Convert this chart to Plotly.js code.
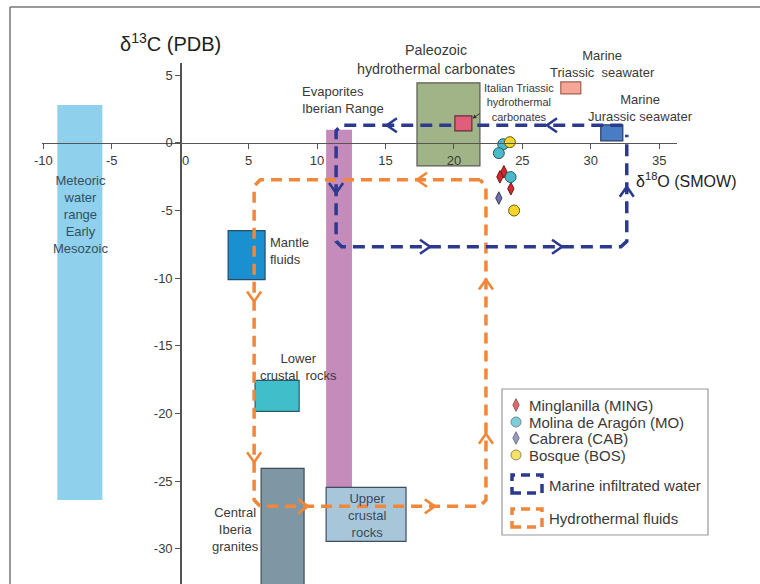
<!DOCTYPE html>
<html><head><meta charset="utf-8">
<script src="https://cdn.plot.ly/plotly-3.0.1.min.js"></script>
<style>html,body{margin:0;padding:0;background:#fff}#chart{width:760px;height:584px}</style>
</head><body><div id="chart"></div>
<script>
// ---------- data (delta18O SMOW on x, delta13C PDB on y) ----------
const fieldNames = ['Meteoric water range Early Mesozoic','Mantle fluids','Lower crustal rocks','Central Iberia granites','Evaporites Iberian Range','Upper crustal rocks','Paleozoic hydrothermal carbonates','Italian Triassic hydrothermal carbonates','Marine Triassic seawater','Marine Jurassic seawater'];
const fieldO18Min = [-8.98, 3.50, 5.47, 5.91, 10.66, 10.66, 17.30, 20.07, 27.81, 30.73];
const fieldO18Max = [-5.69, 6.20, 8.69, 9.05, 12.55, 16.50, 21.90, 21.31, 29.27, 32.34];
const fieldC13Min = [-26.4, -10.11, -19.85, -34.0, -25.46, -29.45, -1.70, 0.89, 3.62, 0.15];
const fieldC13Max = [2.80, -6.49, -17.56, -24.06, 0.96, -25.46, 4.43, 1.99, 4.50, 1.33];

const sampleNames = ['Minglanilla (MING)', 'Molina de Aragón (MO)', 'Cabrera (CAB)', 'Bosque (BOS)'];
const mingO18 = [23.65, 23.36, 24.16];
const mingC13 = [-2.14, -2.51, -3.39];
const moO18 = [23.60, 23.28, 24.14];
const moC13 = [-0.10, -0.76, -2.53];
const cabO18 = [23.28];
const cabC13 = [-4.08];
const bosO18 = [24.09, 24.40];
const bosC13 = [0.05, -5.00];

// flow paths (marine infiltrated water, hydrothermal fluids)
const marineO18 = [32.3, 11.8, 11.39, 11.39, 11.8, 32.2, 32.63, 32.63];
const marineC13 = [1.3, 1.3, 0.9, -7.28, -7.68, -7.68, -7.28, 0.6];
const marineArrowO18 = [15.1, 26.8, 11.39, 18.25, 27.9, 32.63];
const marineArrowC13 = [1.3, 1.3, -3.7, -7.68, -7.68, -3.25];
const marineArrowDir = ['L', 'L', 'D', 'R', 'R', 'U'];

const hydroO18 = [21.9, 5.85, 5.4, 5.4, 5.85, 21.9, 22.34, 22.34, 21.9];
const hydroC13 = [-2.73, -2.73, -3.2, -26.4, -26.86, -26.86, -26.4, -3.2, -2.73];
const hydroArrowO18 = [17.3, 5.4, 5.4, 9.34, 18.6, 22.34, 22.34];
const hydroArrowC13 = [-2.73, -11.73, -23.6, -26.86, -26.86, -21.5, -10.1];
const hydroArrowDir = ['L', 'D', 'D', 'R', 'R', 'U', 'U'];

const xRange = [-10.1, 36.3];
const yRange = [-32.6, 5.9];
const xTickVals = [-10, -5, 0, 5, 10, 15, 20, 25, 30, 35];
const xTickText = ['-10', '-5', '\u00a0\u00a0\u00a00', '5', '10', '15', '20', '25', '30', '35'];
const yTickVals = [5, 0, -5, -10, -15, -20, -25, -30];
const yTickText = ['5', '0', '-5', '-10', '-15', '-20', '-25', '-30'];

// ---------- layout helpers ----------
const W = 760, H = 584, ML = 42, MR = 83, MT = 63, MB = 0;
const PW = W - ML - MR, PH = H - MT - MB;
const fx = px => (px - ML) / PW;
const fy = py => (H - MB - py) / PH;
const kx = PW / (xRange[1] - xRange[0]);   // px per permil (x)
const ky = PH / (yRange[1] - yRange[0]);   // px per permil (y)
const FONT = 'Liberation Sans, Arial, sans-serif';
const TXT = '#3a3a3a';
const ORANGE = '#f0873a', NAVY = '#2b3a8f';

// chevron arrowheads built around each apex (size in pixels, converted through axis scale)
const ARROW_DEPTH = 10, ARROW_HALF = 7;
function chevrons(xs, ys, dirs) {
  const X = [], Y = [];
  xs.forEach((x0, i) => {
    const y0 = ys[i], d = dirs[i];
    const dx = ARROW_DEPTH / kx, dy = ARROW_DEPTH / ky, hx = ARROW_HALF / kx, hy = ARROW_HALF / ky;
    let a, b;
    if (d === 'L') { a = [x0 + dx, y0 + hy]; b = [x0 + dx, y0 - hy]; }
    if (d === 'R') { a = [x0 - dx, y0 + hy]; b = [x0 - dx, y0 - hy]; }
    if (d === 'U') { a = [x0 - hx, y0 - dy]; b = [x0 + hx, y0 - dy]; }
    if (d === 'D') { a = [x0 - hx, y0 + dy]; b = [x0 + hx, y0 + dy]; }
    X.push(a[0], x0, b[0], null); Y.push(a[1], y0, b[1], null);
  });
  return {X, Y};
}
const hydroChev = chevrons(hydroArrowO18, hydroArrowC13, hydroArrowDir);
const marineChev = chevrons(marineArrowO18, marineArrowC13, marineArrowDir);

const fieldFill = ['#8fd0ec','#1a90d0','#40bfcb','#7f96a4','#c48bbb','#a8c6da','#a0b488','#e05e7c','#f5a696','#4a7cc4'];
const fieldLine = [null,'#2a4a66','#2c5a64','#3e4c58',null,'#3e4e5e','#5a5a50','#6a2a3a','#a06050','#2a3a66'];
const fieldLayer = ['below','below','below','below','below','below','below','above','above','below'];

const shapes = fieldNames.map((n, i) => ({
  type: 'rect', xref: 'x', yref: 'y',
  x0: fieldO18Min[i], x1: fieldO18Max[i], y0: fieldC13Min[i], y1: fieldC13Max[i],
  fillcolor: fieldFill[i], layer: fieldLayer[i],
  line: fieldLine[i] ? {color: fieldLine[i], width: 1.2} : {width: 0}
}));
// outer frame
shapes.push({type:'line', xref:'paper', yref:'paper', x0: fx(10), x1: fx(760), y0: fy(7), y1: fy(7), line:{color:'#777', width:1.5}});
shapes.push({type:'line', xref:'paper', yref:'paper', x0: fx(10), x1: fx(10), y0: fy(7), y1: fy(584), line:{color:'#777', width:1.5}});
// legend box and dashed icons
shapes.push({type:'rect', xref:'paper', yref:'paper', x0: fx(502), x1: fx(708), y0: fy(535), y1: fy(389), line:{color:'#999', width:1.2}, fillcolor:'rgba(0,0,0,0)'});
shapes.push({type:'rect', xref:'paper', yref:'paper', x0: fx(512), x1: fx(542), y0: fy(493), y1: fy(475), line:{color:NAVY, width:3.5, dash:'9px,6px'}});
shapes.push({type:'rect', xref:'paper', yref:'paper', x0: fx(512), x1: fx(542), y0: fy(527), y1: fy(509), line:{color:ORANGE, width:3.5, dash:'9px,6px'}});

const ann = (text, x, y, opts) => Object.assign({text, x, y, xref:'x', yref:'y', showarrow:false,
  xanchor:'center', yanchor:'middle',
  font:{family:FONT, size:13, color:TXT}}, opts || {});

// legend rows (pixel layout of the key)
const legendKeyX = 516, legendTextX = 527;
const legendRowY = [405, 422, 438, 455];

const annotations = [
  ann('δ<sup>13</sup>C (PDB)', fx(170), fy(42), {xref:'paper', yref:'paper', font:{family:FONT, size:20, color:'#222'}}),
  ann('δ<sup>18</sup>O (SMOW)', fx(634), fy(180), {xref:'paper', yref:'paper', xanchor:'left', font:{family:FONT, size:16, color:'#222'}}),
  ann('Meteoric<br>water<br>range<br>Early<br>Mesozoic', -7.3, -5.31, {font:{family:FONT, size:13, color:'#33505e'}}),
  ann('Mantle<br>fluids', 6.42, -7.97, {xanchor:'left', align:'left'}),
  ann('Lower<br>crustal  rocks', 8.61, -16.53),
  ann('Central<br>Iberia<br>granites', 4.01, -28.56),
  ann('Evaporites<br>Iberian Range', 8.76, 3.17, {xanchor:'left', align:'left'}),
  ann('Upper<br>crustal<br>rocks', 13.65, -27.53, {font:{family:FONT, size:13, color:'#3a4a5a'}}),
  ann('Paleozoic<br>hydrothermal carbonates', fx(436), fy(59), {xref:'paper', yref:'paper', font:{family:FONT, size:14.3, color:TXT}}),
  ann('Italian Triassic<br>hydrothermal<br>carbonates', 24.74, 2.95, {font:{family:FONT, size:11, color:TXT}}),
  ann('Marine<br>Triassic  seawater', fx(602), fy(64.5), {xref:'paper', yref:'paper'}),
  ann('Marine<br>Jurassic seawater', 33.65, 2.55),
  {x: 21.35, y: 1.8, xref:'x', yref:'y', text:'', showarrow:true, ax:9, ay:-6, arrowhead:2, arrowsize:0.8, arrowwidth:1, arrowcolor:'#333'},
  ann('Marine infiltrated water', fx(547), fy(485), {xref:'paper', yref:'paper', xanchor:'left', font:{family:FONT, size:15, color:TXT}}),
  ann('Hydrothermal fluids', fx(547), fy(518), {xref:'paper', yref:'paper', xanchor:'left', font:{family:FONT, size:15, color:TXT}})
];
sampleNames.forEach((n, i) => annotations.push(
  ann(n, fx(legendTextX), fy(legendRowY[i]), {xref:'paper', yref:'paper', xanchor:'left', font:{family:FONT, size:15, color:TXT}})));

const sampleStyle = [
  {symbol:'diamond-tall', size:9, color:'#d8262a', line:{color:'#6a1a1a', width:1}},
  {symbol:'circle', size:11, color:'#48b9c9', line:{color:'#2a5a66', width:1}},
  {symbol:'diamond-tall', size:9, color:'#6e70a8', line:{color:'#3a3a60', width:1}},
  {symbol:'circle', size:11, color:'#f3d628', line:{color:'#6a5a10', width:1}}
];

const traces = [
  {x: hydroO18, y: hydroC13, mode:'lines', line:{color:ORANGE, width:3.5, dash:'11px,7px'}, hoverinfo:'skip'},
  {x: marineO18, y: marineC13, mode:'lines', line:{color:NAVY, width:3.5, dash:'12px,7px'}, hoverinfo:'skip'},
  {x: hydroChev.X, y: hydroChev.Y, mode:'lines', line:{color:ORANGE, width:2.6}, hoverinfo:'skip'},
  {x: marineChev.X, y: marineChev.Y, mode:'lines', line:{color:NAVY, width:2.6}, hoverinfo:'skip'},
  {name: sampleNames[0], x: mingO18, y: mingC13, mode:'markers', marker: sampleStyle[0]},
  {name: sampleNames[1], x: moO18, y: moC13, mode:'markers', marker: sampleStyle[1]},
  {name: sampleNames[2], x: cabO18, y: cabC13, mode:'markers', marker: sampleStyle[2]},
  {name: sampleNames[3], x: bosO18, y: bosC13, mode:'markers', marker: sampleStyle[3]},
  // legend key symbols on a hidden pixel-scaled overlay axis
  {x: legendRowY.map(() => legendKeyX), y: legendRowY, xaxis:'x2', yaxis:'y2', mode:'markers', hoverinfo:'skip',
   marker:{symbol: sampleStyle.map(s => s.symbol), size:[9, 10, 9, 10],
     color: sampleStyle.map(s => s.color), line:{color: sampleStyle.map(s => s.line.color), width:1}}}
];

const axisCommon = {showgrid:false, zeroline:false, showline:true, linecolor:'#555', linewidth:1.3,
  ticks:'outside', ticklen:5, tickwidth:1, tickcolor:'#555', tickmode:'array',
  tickfont:{family:FONT, size:13, color:TXT}, fixedrange:true};

const layout = {
  width: W, height: H,
  margin: {l: ML, r: MR, t: MT, b: MB, pad: 0},
  paper_bgcolor:'#fff', plot_bgcolor:'#fff',
  font:{family:FONT, color:TXT},
  showlegend: false,
  xaxis: Object.assign({}, axisCommon, {range: xRange, anchor:'free',
    position: (0 - yRange[0]) / (yRange[1] - yRange[0]), tickvals: xTickVals, ticktext: xTickText}),
  yaxis: Object.assign({}, axisCommon, {range: yRange, anchor:'free',
    position: (0 - xRange[0]) / (xRange[1] - xRange[0]), tickvals: yTickVals, ticktext: yTickText}),
  xaxis2: {overlaying:'x', anchor:'y2', range:[ML, W - MR], visible:false, fixedrange:true},
  yaxis2: {overlaying:'y', anchor:'x2', range:[H - MB, MT], visible:false, fixedrange:true},
  shapes, annotations
};

Plotly.newPlot('chart', traces, layout, {displayModeBar:false, staticPlot:true});
</script></body></html>
